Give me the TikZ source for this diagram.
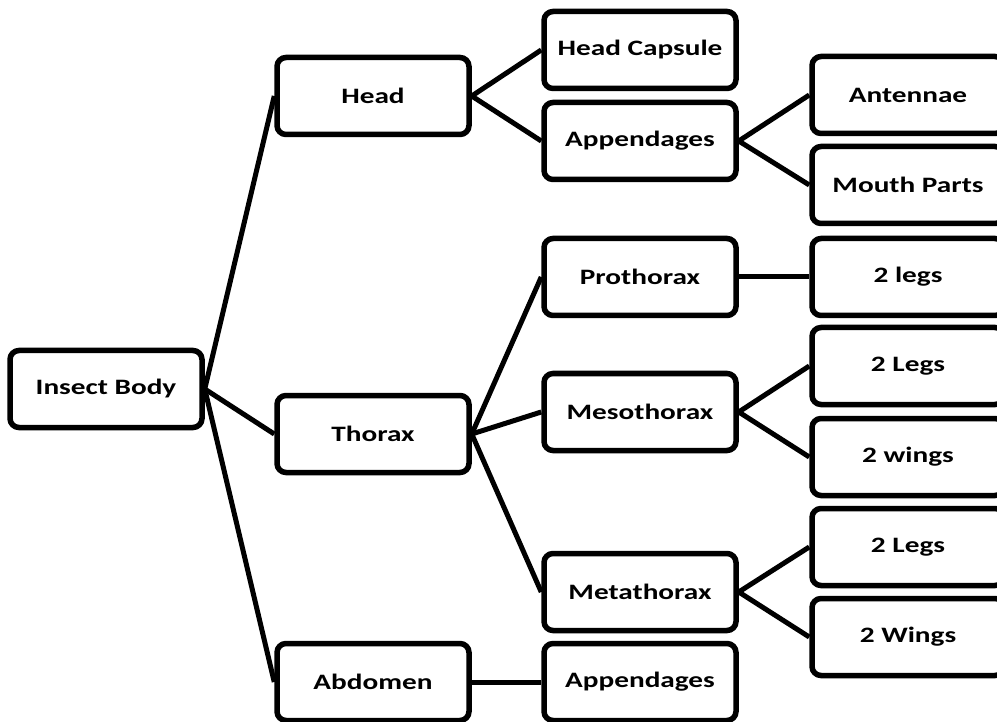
\documentclass[tikz,border=0pt]{standalone}
\usepackage{fontspec}
\setmainfont{Carlito}[FakeStretch=1.33]
\usepackage{tikz}

\begin{document}
\begin{tikzpicture}[x=1pt, y=-1pt,
  part/.style={draw, line width=5.5pt, rounded corners=9pt,
    minimum width=192pt, minimum height=77pt, inner sep=0pt,
    font=\bfseries\fontsize{22}{24}\selectfont},
  link/.style={line width=5pt}]

\useasboundingbox (0,0) rectangle (997,722);

% first level
\node[part] (body) at (106,389) {Insect Body};

\node[part] (head) at (373,96) {Head};
\node[part] (thorax) at (373,434) {Thorax};
\node[part] (abdomen) at (373,682) {Abdomen};

% second level
\node[part] (capsule) at (640,50) {Head Capsule};
\node[part] (headapp) at (640,141) {Appendages};
\node[part] (pro) at (640,277) {Prothorax};
\node[part] (meso) at (640,412) {Mesothorax};
\node[part] (meta) at (640,592) {Metathorax};
\node[part] (abdapp) at (640,682) {Appendages};

% third level
\node[part] (antennae) at (908,95) {Antennae};
\node[part] (mouth) at (908,185) {Mouth Parts};
\node[part] (prolegs) at (908,277) {2 legs};
\node[part] (mesolegs) at (908,366) {2 Legs};
\node[part] (mesowings) at (908,457) {2 wings};
\node[part] (metalegs) at (908,547) {2 Legs};
\node[part] (metawings) at (908,637) {2 Wings};

\draw[link] (body.east) -- (head.west);
\draw[link] (body.east) -- (thorax.west);
\draw[link] (body.east) -- (abdomen.west);

\draw[link] (head.east) -- (capsule.west);
\draw[link] (head.east) -- (headapp.west);
\draw[link] (headapp.east) -- (antennae.west);
\draw[link] (headapp.east) -- (mouth.west);

\draw[link] (thorax.east) -- (pro.west);
\draw[link] (thorax.east) -- (meso.west);
\draw[link] (thorax.east) -- (meta.west);
\draw[link] (pro.east) -- (prolegs.west);
\draw[link] (meso.east) -- (mesolegs.west);
\draw[link] (meso.east) -- (mesowings.west);
\draw[link] (meta.east) -- (metalegs.west);
\draw[link] (meta.east) -- (metawings.west);

\draw[link] (abdomen.east) -- (abdapp.west);

\end{tikzpicture}
\end{document}
